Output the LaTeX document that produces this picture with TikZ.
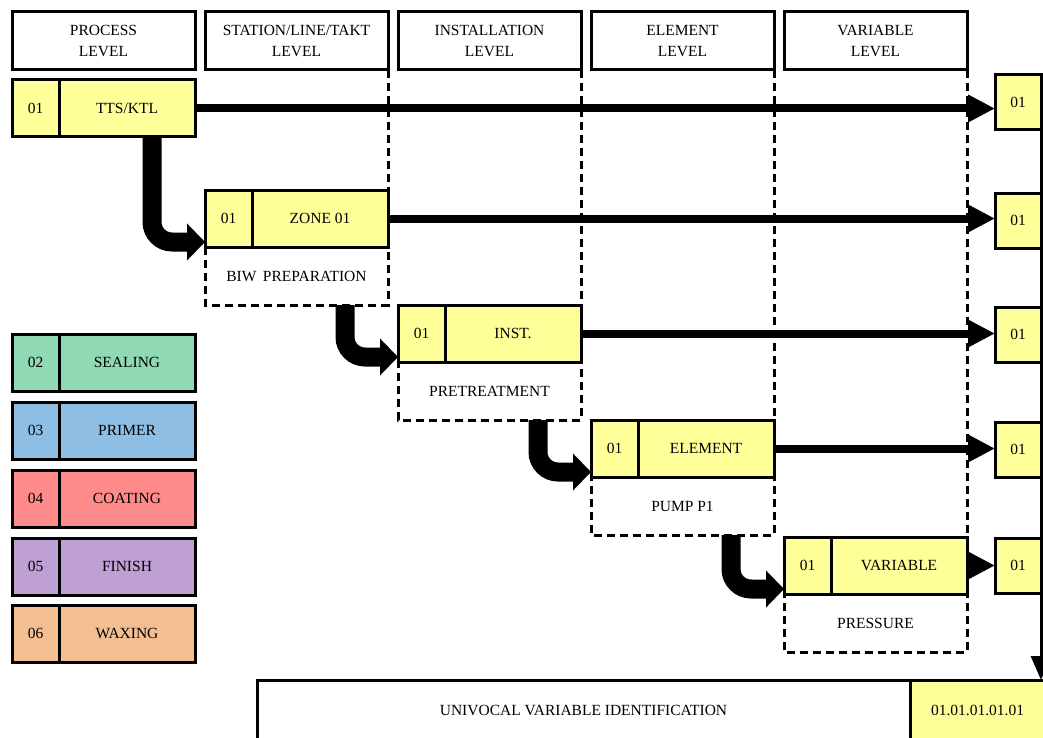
\documentclass[tikz,border=0pt]{standalone}
\usepackage{fontspec}
\setmainfont{Liberation Serif}
\usetikzlibrary{arrows.meta,calc}
\definecolor{cellyellow}{RGB}{255,255,153}
\definecolor{cellgreen}{RGB}{143,217,180}
\definecolor{cellblue}{RGB}{142,190,228}
\definecolor{cellred}{RGB}{255,138,138}
\definecolor{cellpurple}{RGB}{190,160,212}
\definecolor{cellorange}{RGB}{243,190,145}
\begin{document}
\begin{tikzpicture}[x=1pt,y=-1pt,
  txt/.style={font=\fontsize{15.5}{21}\selectfont},
  cell/.style={txt, draw, line width=3pt, outer sep=0pt, inner sep=0pt,
    minimum height=57pt, anchor=north west},
  numcell/.style={cell, minimum width=47pt},
  labcell/.style={cell, minimum width=136pt},
  endcell/.style={cell, fill=cellyellow, minimum width=46pt, minimum height=55pt},
  head/.style={txt, draw, line width=3pt, outer sep=0pt, inner sep=0pt,
    minimum width=183pt, minimum height=58pt, anchor=north west, align=center},
  note/.style={txt, outer sep=0pt, inner sep=0pt, minimum width=183pt,
    minimum height=58pt, anchor=north west},
  dline/.style={line width=3pt, dash pattern=on 8pt off 5pt},
  hline/.style={line width=8pt, -{Triangle[length=27pt,width=26pt]}},
  stepdown/.style={line width=19pt, rounded corners=20pt,
    -{Triangle[length=18pt,width=36pt]}},
  vline/.style={line width=3pt, -{Triangle[length=24pt,width=20pt]}}
]
\useasboundingbox (0,0) rectangle (1043,738);
\clip (0,0) rectangle (1043,738);

% level headers
\node[head] (h1) at (12,12)  {PROCESS\\LEVEL};
\node[head] (h2) at (205,12) {STATION/LINE/TAKT\\LEVEL};
\node[head] (h3) at (398,12) {INSTALLATION\\LEVEL};
\node[head] (h4) at (591,12) {ELEMENT\\LEVEL};
\node[head] (h5) at (784,12) {VARIABLE\\LEVEL};

% cascade of levels
\node[numcell, fill=cellyellow] (n1) at (12,80) {01};
\node[labcell, fill=cellyellow] (l1) at (n1.north east) {TTS/KTL};

\node[numcell, fill=cellyellow] (n2) at (205,190) {01};
\node[labcell, fill=cellyellow] (l2) at (n2.north east) {ZONE 01};
\node[note] (d2) at (n2.south west) {BIW\, PREPARATION};

\node[numcell, fill=cellyellow] (n3) at (398,305) {01};
\node[labcell, fill=cellyellow] (l3) at (n3.north east) {INST.};
\node[note] (d3) at (n3.south west) {PRETREATMENT};

\node[numcell, fill=cellyellow] (n4) at (591,420) {01};
\node[labcell, fill=cellyellow] (l4) at (n4.north east) {ELEMENT};
\node[note] (d4) at (n4.south west) {PUMP P1};

\node[numcell, fill=cellyellow] (n5) at (784,537) {01};
\node[labcell, fill=cellyellow] (l5) at (n5.north east) {VARIABLE};
\node[note] (d5) at (n5.south west) {PRESSURE};

% resulting code digits
\node[endcell] (r1) at (995,75)  {01};
\node[endcell] (r2) at (995,193) {01};
\node[endcell] (r3) at (995,307) {01};
\node[endcell] (r4) at (995,422) {01};
\node[endcell] (r5) at (995,538) {01};

% final identifier
\node[cell, minimum width=653pt, minimum height=60pt] (uid) at (257,680)
  {UNIVOCAL VARIABLE IDENTIFICATION};
\node[cell, fill=cellyellow, minimum width=135pt, minimum height=60pt] (code)
  at (uid.north east) {01.01.01.01.01};

% other processes
\node[numcell, fill=cellgreen]  (s2) at (12,334) {02};
\node[labcell, fill=cellgreen]  (t2) at (s2.north east) {SEALING};
\node[numcell, fill=cellblue]   (s3) at (12,402) {03};
\node[labcell, fill=cellblue]   (t3) at (s3.north east) {PRIMER};
\node[numcell, fill=cellred]    (s4) at (12,470) {04};
\node[labcell, fill=cellred]    (t4) at (s4.north east) {COATING};
\node[numcell, fill=cellpurple] (s5) at (12,538) {05};
\node[labcell, fill=cellpurple] (t5) at (s5.north east) {FINISH};
\node[numcell, fill=cellorange] (s6) at (12,605) {06};
\node[labcell, fill=cellorange] (t6) at (s6.north east) {WAXING};

% column boundaries and description frames
\draw[dline] (h2.south east) -- (d2.south east) -- (d2.south west) -- (n2.south west);
\draw[dline] (h3.south east) -- (d3.south east) -- (d3.south west) -- (n3.south west);
\draw[dline] (h4.south east) -- (d4.south east) -- (d4.south west) -- (n4.south west);
\draw[dline] (h5.south east) -- (d5.south east) -- (d5.south west) -- (n5.south west);

% digit transfer arrows
\draw[hline] (l1.east) -- (l1.east -| r1.west);
\draw[hline] (l2.east) -- (l2.east -| r2.west);
\draw[hline] (l3.east) -- (l3.east -| r3.west);
\draw[hline] (l4.east) -- (l4.east -| r4.west);
\draw[hline] (l5.east) -- (l5.east -| r5.west);

% descent to the next level
\draw[stepdown] ([xshift=140pt]n1.south west) |- ([yshift=5pt]n2.south west);
\draw[stepdown] ([xshift=140pt]d2.south west) |- ([yshift=5pt]n3.south west);
\draw[stepdown] ([xshift=140pt]d3.south west) |- ([yshift=5pt]n4.south west);
\draw[stepdown] ([xshift=140pt]d4.south west) |- ([yshift=5pt]n5.south west);

% collection into the identifier
\draw[vline] (r1.north east) -- (r1.north east |- code.north);
\end{tikzpicture}
\end{document}
